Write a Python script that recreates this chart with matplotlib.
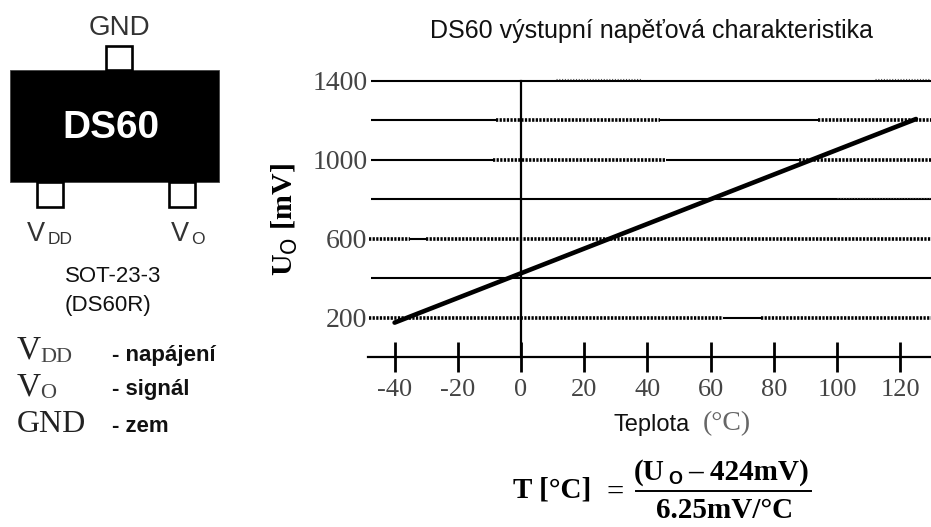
import matplotlib
matplotlib.use('Agg')
import matplotlib.pyplot as plt
from matplotlib.patches import Rectangle

SANS = 'Liberation Sans'
SERIF = 'Liberation Serif'

# chart data
temperature = [-40, 125]
voltage = [174, 1205]
x_ticks = [-40, -20, 0, 20, 40, 60, 80, 100, 120]
grid_levels = [200, 400, 600, 800, 1000, 1200, 1400]
y_labels = ['200', '', '600', '', '1000', '', '1400']

# the scanned grid lines switch between solid and heavy dotted
dotted_spans = {
    200: [(-48, 64), (76, 130)],
    600: [(-48, -35), (-30, 130)],
    1000: [(-9, 46), (88, 130)],
    1200: [(-8, 44), (94, 130)],
}
thin_dotted_spans = {
    800: [(100, 130)],
    1400: [(11, 38), (112, 130)],
}

W, H = 931, 527
fig = plt.figure(figsize=(W / 100, H / 100), dpi=100)

# chart axes, placed by pixel box
left, right, top, bottom = 368, 931, 70, 375
ax = fig.add_axes([left / W, 1 - bottom / H, (right - left) / W, (bottom - top) / H])
ax.set_xlim((left - 521) / 3.16, (right - 521) / 3.16)
ax.set_ylim((357 - bottom) / 0.1975, (357 - top) / 0.1975)
ax.patch.set_visible(False)
for name in ['top', 'right', 'left']:
    ax.spines[name].set_visible(False)
ax.spines['bottom'].set_position(('data', 0))
ax.spines['bottom'].set_linewidth(1.6)

ax.set_xticks(x_ticks)
ax.set_xticklabels([str(t) for t in x_ticks], family=SERIF, fontsize=19, color='#444444')
ax.tick_params(axis='x', direction='inout', length=22, width=2, pad=5)
ax.set_yticks(grid_levels)
ax.set_yticklabels(y_labels, family=SERIF, fontsize=20, color='#444444')
ax.tick_params(axis='y', length=0, pad=0.5)

xmin, xmax = ax.get_xlim()
start = (371 - 521) / 3.16
for level in grid_levels:
    spans = dotted_spans.get(level, [])
    ax.plot([start, xmax], [level, level], color='black', lw=1.5, solid_capstyle='butt', zorder=2)
    for a, b in spans:
        ax.plot([a, b], [level, level], color='white', lw=2.6, solid_capstyle='butt', zorder=2.1)
        ax.plot([a, b], [level, level], color='black', lw=2.6, ls=(0, (0.62, 0.38)), zorder=2.2)
    for a, b in thin_dotted_spans.get(level, []):
        ax.plot([a, b], [level + 6, level + 6], color='#555555', lw=0.8, ls=(0, (1, 1.5)), zorder=2.2)

ax.plot([0, 0], [0, 1400], color='black', lw=1.6, zorder=3)
ax.plot(temperature, voltage, color='black', lw=3.3, solid_capstyle='round', zorder=4)

# package drawing and text, in image pixels
ov = fig.add_axes([0, 0, 1, 1])
ov.set_xlim(0, W)
ov.set_ylim(H, 0)
ov.axis('off')
ov.patch.set_visible(False)

ov.add_patch(Rectangle((10, 70), 209, 112, fc='black', ec='#444444', lw=0.6))
for x0, y0 in [(106, 46), (37, 182), (169, 182)]:
    ov.add_patch(Rectangle((x0, y0), 26, 25 if y0 > 100 else 24, fc='white', ec='black', lw=1.9))

ov.text(119, 28, 'GND', family=SANS, fontsize=20, color='#333333', ha='center', va='center')
ov.text(111, 128, 'DS60', family=SANS, fontsize=28, fontweight='bold', color='white', ha='center', va='center')
ov.text(27, 234, 'V', family=SANS, fontsize=19.5, color='#333333', va='center')
ov.text(48, 240, 'DD', family=SANS, fontsize=12.5, color='#333333', va='center')
ov.text(171, 234, 'V', family=SANS, fontsize=19.5, color='#333333', va='center')
ov.text(191, 240, 'O', family=SANS, fontsize=12.5, color='#333333', va='center')

ov.text(65, 276, 'SOT-23-3', family=SANS, fontsize=16, color='#111111', va='center')
ov.text(65, 305, '(DS60R)', family=SANS, fontsize=16, color='#111111', va='center')

ov.text(17, 350, 'V', family=SERIF, fontsize=24, color='#222222', va='center')
ov.text(40, 357, 'DD', family=SERIF, fontsize=16, color='#444444', va='center')
ov.text(17, 387, 'V', family=SERIF, fontsize=24, color='#222222', va='center')
ov.text(40, 394, 'O', family=SERIF, fontsize=16, color='#444444', va='center')
ov.text(17, 425, 'GND', family=SERIF, fontsize=23, color='#222222', va='center')
ov.text(112, 356, '- napájení', family=SANS, fontsize=16, fontweight='bold', color='#111111', va='center')
ov.text(112, 389, '- signál', family=SANS, fontsize=16, fontweight='bold', color='#111111', va='center')
ov.text(112, 426, '- zem', family=SANS, fontsize=16, fontweight='bold', color='#111111', va='center')

ov.text(652, 31, 'DS60 výstupní napěťová charakteristika', family=SANS, fontsize=18, color='#111111',
        ha='center', va='center')
ov.text(285, 220, 'U$_{\\mathrm{O}}$ [mV]', family=SERIF, fontsize=21.5, fontweight='bold', rotation=90,
        ha='center', va='center')
ov.text(614, 425, 'Teplota', family=SANS, fontsize=17, color='#111111', va='center')
ov.text(703, 424, '(°C)', family=SERIF, fontsize=20, color='#666666', va='center')

ov.text(513, 490, 'T [°C]', family=SERIF, fontsize=21, fontweight='bold', va='center')
ov.text(606, 493, '=', family=SERIF, fontsize=22, va='center')
ov.text(634, 473, '(U', family=SERIF, fontsize=21, fontweight='bold', va='center')
ov.text(668, 479, 'O', family=SANS, fontsize=13, fontweight='bold', va='center')
ov.text(688, 473, '– 424mV)', family=SERIF, fontsize=21, fontweight='bold', va='center')
ov.plot([636, 811], [491, 491], color='black', lw=1.4)
ov.text(725, 511, '6.25mV/°C', family=SERIF, fontsize=21, fontweight='bold', ha='center', va='center')

fig.savefig('out.png', dpi=100)
